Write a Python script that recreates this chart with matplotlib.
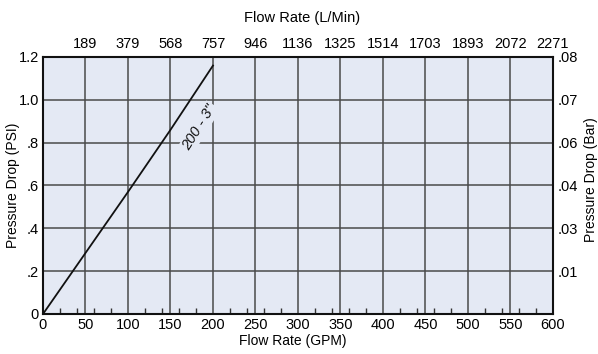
import matplotlib
matplotlib.use("Agg")
import matplotlib.pyplot as plt
import numpy as np

plt.rcParams['font.family'] = ['Liberation Sans', 'DejaVu Sans']

# curve 200 - 3"
flow_gpm = [0, 50, 100, 150, 200]
drop_psi = [0, 0.285, 0.57, 0.86, 1.16]

gpm_ticks = list(range(0, 601, 50))
lmin_labels = ["189", "379", "568", "757", "946", "1136", "1325", "1514",
               "1703", "1893", "2072", "2271"]
psi_ticks = [0, 0.2, 0.4, 0.6, 0.8, 1.0, 1.2]
psi_labels = ["0", ".2", ".4", ".6", ".8", "1.0", "1.2"]
bar_labels = ["", ".01", ".03", ".04", ".06", ".07", ".08"]

W, H = 598, 354
bg = "#e4e9f4"
fig = plt.figure(figsize=(W / 100, H / 100), dpi=100)
ax = fig.add_axes([0.0719, 0.113, 0.8528, 0.726])
ax.set_facecolor(bg)
ax.set_xlim(0, 600)
ax.set_ylim(0, 1.2)

ax.set_xticks(gpm_ticks)
ax.set_yticks(psi_ticks)
ax.set_yticklabels(psi_labels)
ax.set_xticks(np.arange(0, 601, 20), minor=True)
ax.grid(True, which="major", color="#4a4a4a", lw=1.1)
ax.tick_params(which="major", length=0, labelsize=10.5, pad=3)
ax.tick_params(axis="x", which="minor", direction="in", length=4, width=1, color="#333333")
ax.tick_params(axis="y", which="minor", length=0)
for s in ax.spines.values():
    s.set_linewidth(1.5)
    s.set_color("#111111")

ax.plot(flow_gpm, drop_psi, color="#111111", lw=1.3)
ax.text(184, 0.87, '200 - 3"', rotation=58, ha="center", va="center",
        fontsize=10.5, style="italic", color="#111111",
        bbox=dict(facecolor=bg, edgecolor="none", pad=1.0))

top = ax.twiny()
top.set_xlim(0, 600)
top.set_xticks(gpm_ticks[1:])
top.set_xticklabels(lmin_labels)
top.tick_params(length=0, labelsize=10.5, pad=4)

right = ax.twinx()
right.set_ylim(0, 1.2)
right.set_yticks(psi_ticks)
right.set_yticklabels(bar_labels)
right.tick_params(length=0, labelsize=10.5, pad=3)
for a in (top, right):
    for s in a.spines.values():
        s.set_visible(False)

# axis titles placed in figure pixels
fig.text(13 / W, 1 - 185 / H, "Pressure Drop (PSI)", rotation=90,
         ha="center", va="center", fontsize=10)
fig.text(591 / W, 1 - 180 / H, "Pressure Drop (Bar)", rotation=90,
         ha="center", va="center", fontsize=10)
fig.text(293 / W, 1 - 341 / H, "Flow Rate (GPM)", ha="center", va="center", fontsize=10)
fig.text(302 / W, 1 - 18 / H, "Flow Rate (L/Min)", ha="center", va="center", fontsize=10.5)

fig.savefig("out.png", dpi=100)
